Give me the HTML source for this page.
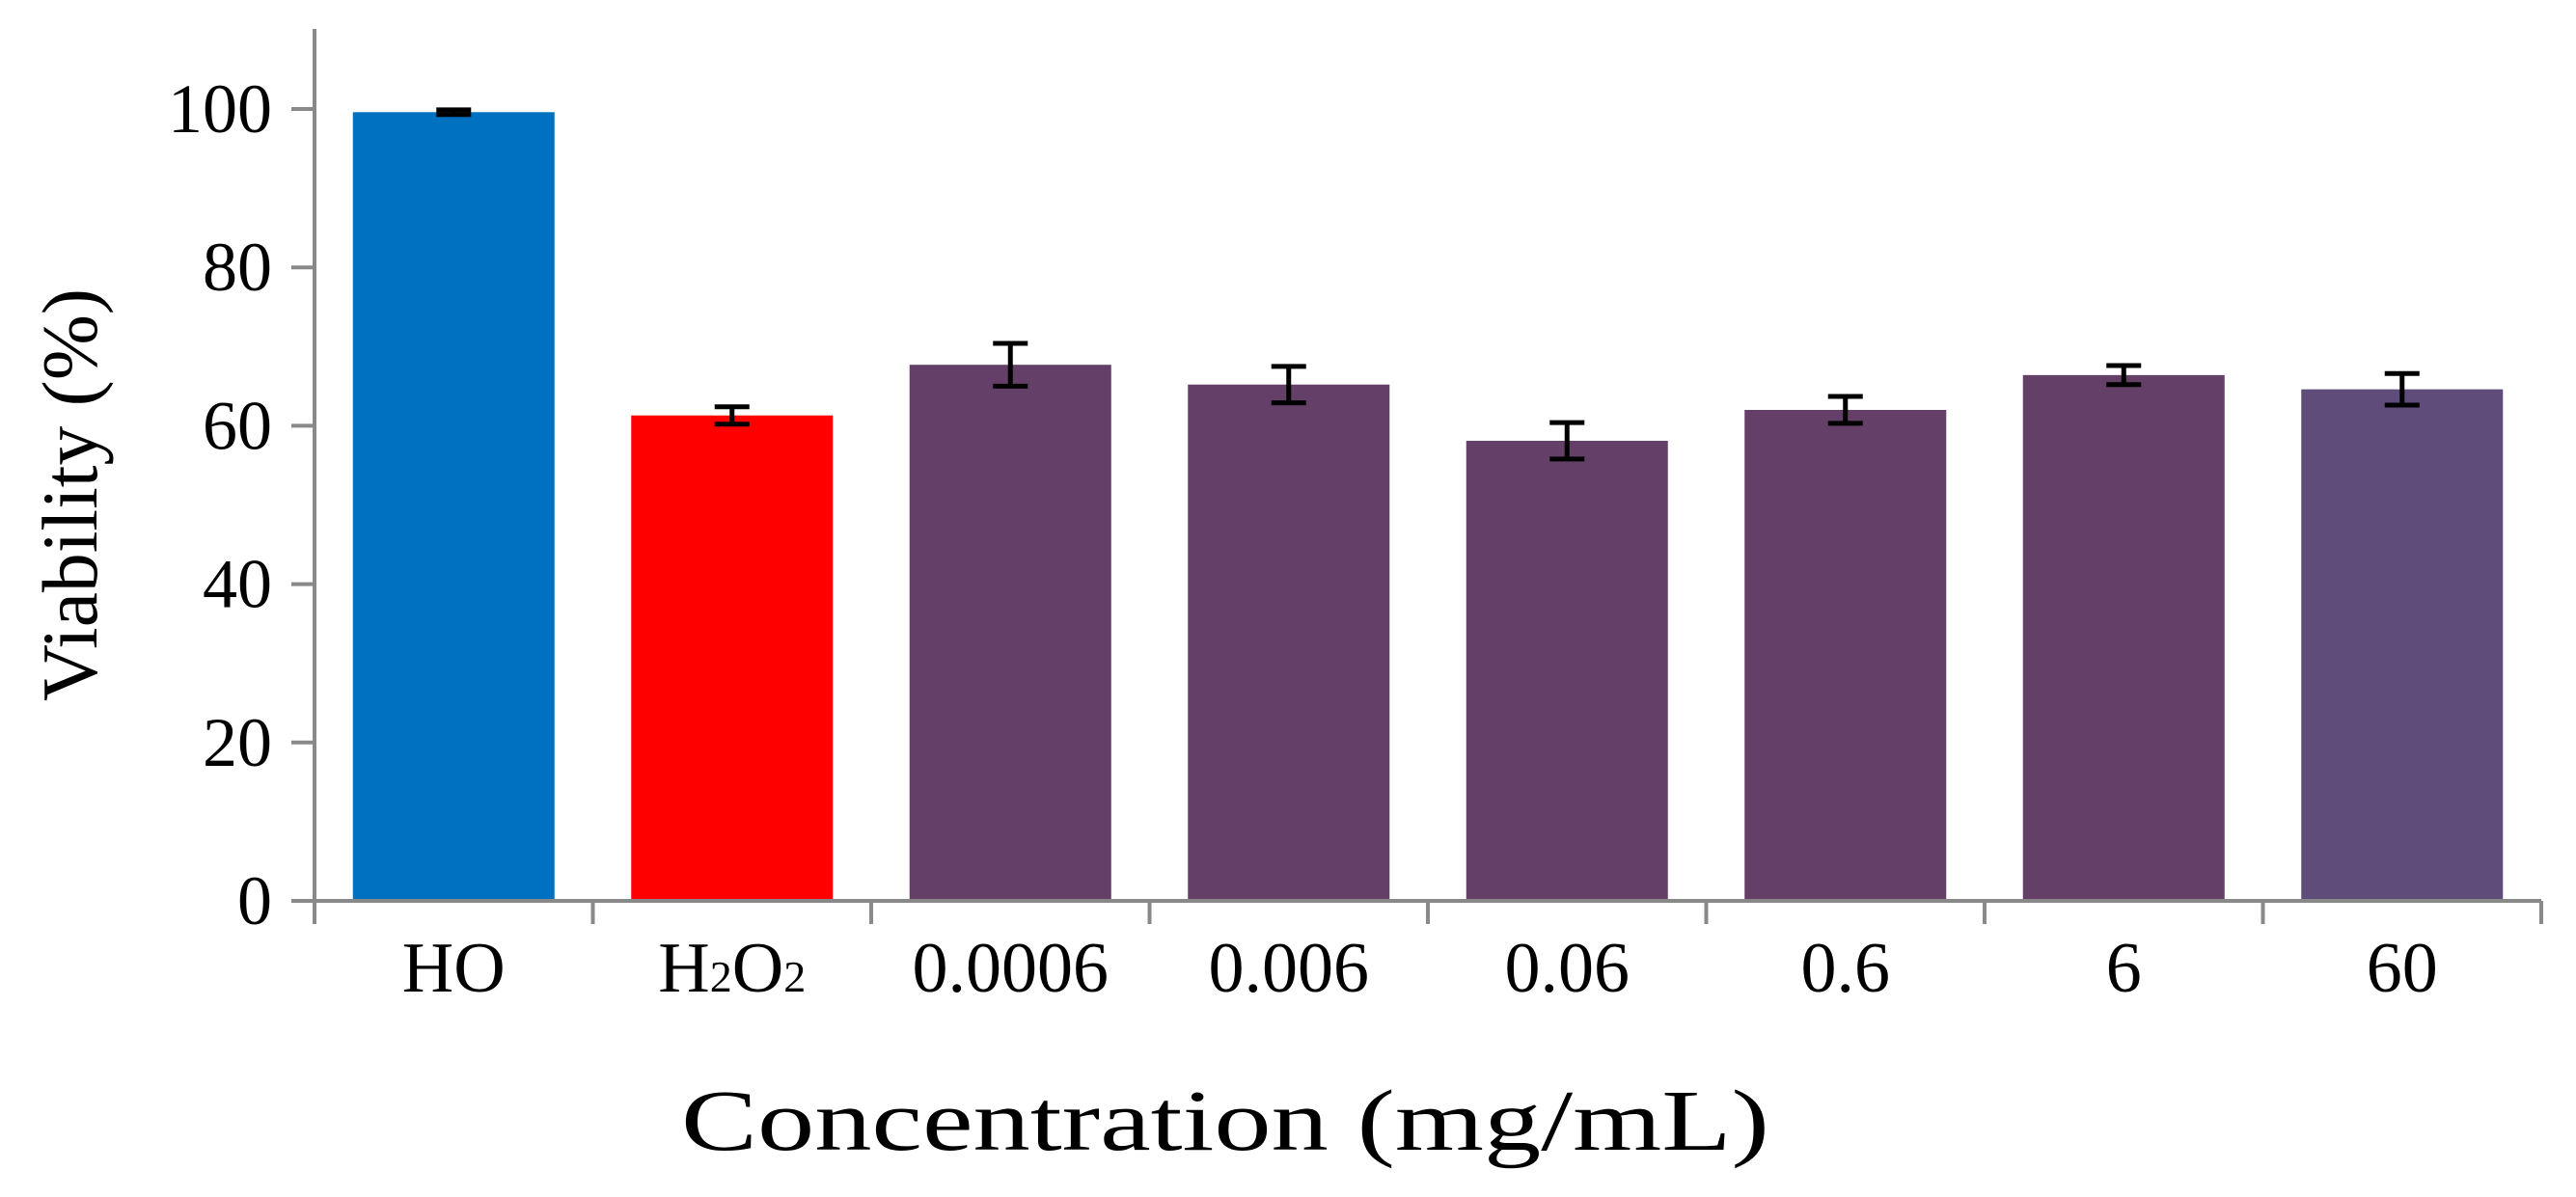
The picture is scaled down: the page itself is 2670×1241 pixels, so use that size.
<!DOCTYPE html>
<html><head><meta charset="utf-8"><style>
html,body{margin:0;padding:0;background:#fff;}
svg{display:block;font-family:"Liberation Serif",serif;}
</style></head><body>
<svg id="chart" width="2670" height="1241" viewBox="0 0 2670 1241" xmlns="http://www.w3.org/2000/svg">
<g id="bars"></g>
<g id="axes"></g>
<text transform="translate(100,513) rotate(-90)" text-anchor="middle" font-size="82" textLength="428" lengthAdjust="spacingAndGlyphs" fill="#000">Viability (%)</text>
<text x="1270" y="1192" text-anchor="middle" font-size="90" textLength="1128" lengthAdjust="spacingAndGlyphs" fill="#000">Concentration (mg/mL)</text>
</svg>
<script>
const categories = ["HO", "H2O2", "0.0006", "0.006", "0.06", "0.6", "6", "60"];
const values = [99.6, 61.3, 67.7, 65.2, 58.1, 62.0, 66.4, 64.6];
const errors = [0.3, 1.1, 2.7, 2.3, 2.3, 1.7, 1.2, 2.0];
const colors = ["#0070C0", "#FF0000", "#643F67", "#643F67", "#643F67", "#643F67", "#643F67", "#604C7A"];
const yTicks = [0, 20, 40, 60, 80, 100];

const NS = "http://www.w3.org/2000/svg";
const x0 = 326, x1 = 2634, yBase = 934, yTop100 = 113;
const catW = (x1 - x0) / categories.length;
const barW = 209;
function y(v){ return yBase - (yBase - yTop100) * v / 100; }
function xc(i){ return x0 + catW * (i + 0.5); }
function mk(tag, attrs, parent){ const e = document.createElementNS(NS, tag); for (const k in attrs) e.setAttribute(k, attrs[k]); parent.appendChild(e); return e; }

const bars = document.getElementById('bars');
const axes = document.getElementById('axes');

categories.forEach((c, i) => {
  const r = mk('rect', {x: xc(i) - barW/2, y: y(values[i]), width: barW, height: yBase - y(values[i]), fill: colors[i]}, bars);
  
  
  const g = mk('g', {stroke: '#000', 'stroke-width': 5}, bars);
  
  
  const top = y(values[i] + errors[i]), bot = y(values[i] - errors[i]);
  mk('line', {x1: xc(i), x2: xc(i), y1: top, y2: bot}, g);
  mk('line', {x1: xc(i) - 18, x2: xc(i) + 18, y1: top, y2: top}, g);
  mk('line', {x1: xc(i) - 18, x2: xc(i) + 18, y1: bot, y2: bot}, g);
  const t = mk('text', {x: xc(i), y: 1028, 'text-anchor': 'middle', 'font-size': 74, fill: '#000'}, axes);
  
  
  if (c === 'H2O2') {
    t.innerHTML = 'H<tspan font-size="46">2</tspan>O<tspan font-size="46">2</tspan>';
  } else t.textContent = c;
});

const ax = mk('g', {stroke: '#898989', 'stroke-width': 4, fill: 'none'}, axes);


mk('line', {x1: x0, x2: x0, y1: 30, y2: 958}, ax);
mk('line', {x1: x0 - 24, x2: x1, y1: yBase, y2: yBase}, ax);
for (let i = 1; i <= categories.length; i++) mk('line', {x1: x0 + catW*i, x2: x0 + catW*i, y1: yBase, y2: 958}, ax);
yTicks.forEach(v => {
  mk('line', {x1: x0 - 24, x2: x0, y1: y(v), y2: y(v)}, ax);
  const t = mk('text', {x: 282, y: y(v) + 24, 'text-anchor': 'end', 'font-size': 72, fill: '#000'}, axes);
  
  
  t.textContent = v;
});
</script>
</body></html>
